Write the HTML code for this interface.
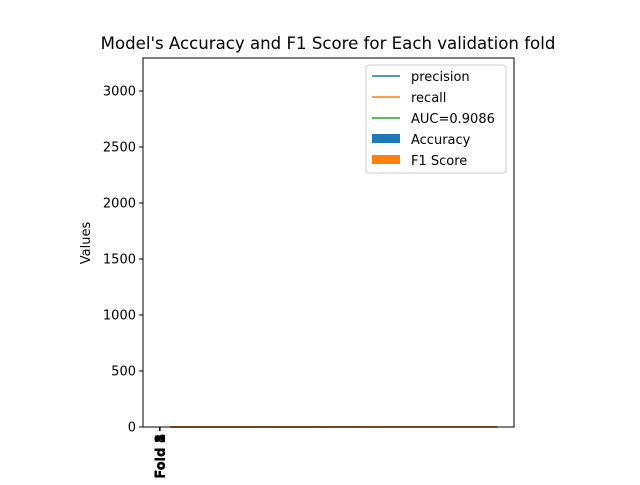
<!DOCTYPE html>
<html><head><meta charset="utf-8"><style>
body{margin:0;background:#fff;font-family:"Liberation Sans","DejaVu Sans",sans-serif}
svg text{font-family:"DejaVu Sans","Liberation Sans",sans-serif}
</style></head><body>
<svg id="chart" width="640" height="480">
<rect width="640" height="480" fill="#fff"/>
<text x="328" y="49" font-size="16.6" text-anchor="middle">Model's Accuracy and F1 Score for Each validation fold</text>
<g id="plot"></g>
<rect x="143" y="58" width="371" height="369" fill="none" stroke="#000" stroke-width="1"/>
<text transform="translate(90,243) rotate(-90)" font-size="13" text-anchor="middle">Values</text>
<g>
<rect x="366" y="65" width="140" height="108" fill="#fff" stroke="#ccc" rx="3"/>
<line x1="372" y1="76" x2="400" y2="76" stroke="#1f77b4" stroke-width="1.5"/>
<text x="411" y="81" font-size="13">precision</text>
<line x1="372" y1="97" x2="400" y2="97" stroke="#ff7f0e" stroke-width="1.5"/>
<text x="411" y="102" font-size="13">recall</text>
<line x1="372" y1="118" x2="400" y2="118" stroke="#2ca02c" stroke-width="1.5"/>
<text x="411" y="123" font-size="13">AUC=0.9086</text>
<rect x="372" y="134" width="28" height="9" fill="#1f77b4"/>
<text x="411" y="144" font-size="13">Accuracy</text>
<rect x="372" y="155" width="28" height="9" fill="#ff7f0e"/>
<text x="411" y="165" font-size="13">F1 Score</text>
</g>
</svg>
<script>
const folds = ["Fold 1","Fold 2","Fold 3","Fold 4","Fold 5"];
const accuracy = [0.91,0.90,0.92,0.89,0.91];
const f1 = [0.90,0.89,0.91,0.88,0.90];
const yTicks = [0,500,1000,1500,2000,2500,3000];
const curveX = [100,3240];
const precisionY = [1,1];
const recallY = [1,1];
const aucX = [100,3240];
const aucY = [0,1];
const X0=143,X1=514,Y0=427,Y1=58,xmin=-160,xmax=3400,ymax=3295;
const sx=v=>X0+(v-xmin)/(xmax-xmin)*(X1-X0);
const sy=v=>Y0-v/ymax*(Y0-Y1);
const NS="http://www.w3.org/2000/svg";
const g=document.getElementById('plot');
function mk(t,a){const e=document.createElementNS(NS,t);for(const k in a)e.setAttribute(k,a[k]);g.appendChild(e);return e;}
yTicks.forEach(v=>{
 const l=mk('line',{x1:X0-4,x2:X0,y1:sy(v),y2:sy(v),stroke:'#000'});
 
 
 const t=mk('text',{x:X0-7,y:sy(v)+4.5,'font-size':13,'text-anchor':'end'});t.textContent=v;
 
 
});
const bw=0.35;
folds.forEach((f,i)=>{
 const a=mk('rect',{x:sx(i-bw/2),y:sy(accuracy[i]),width:Math.max(0.5,sx(bw)-sx(0)),height:sy(0)-sy(accuracy[i]),fill:'#1f77b4'});
 
 
 const b=mk('rect',{x:sx(i+bw/2),y:sy(f1[i]),width:Math.max(0.5,sx(bw)-sx(0)),height:sy(0)-sy(f1[i]),fill:'#d62728'});
 
 
 const tk=mk('line',{x1:sx(i),x2:sx(i),y1:Y0,y2:Y0+4,stroke:'#000'});
 
 
 const t=mk('text',{transform:`translate(${sx(i)+5},${Y0+7}) rotate(-90)`,'font-size':13,'font-weight':'bold','text-anchor':'end'});t.textContent=f;
 
 
});
function line(xs,ys,c,n){const p=mk('polyline',{points:xs.map((x,i)=>sx(x)+','+sy(ys[i])).join(' '),fill:'none',stroke:c,'stroke-width':1.5});
 
 }
line(aucX,aucY,'#2ca02c','auc-line');
line(curveX,precisionY,'#1f77b4','precision-line');
line(curveX,recallY,'#ff7f0e','recall-line');
</script>
</body></html>
